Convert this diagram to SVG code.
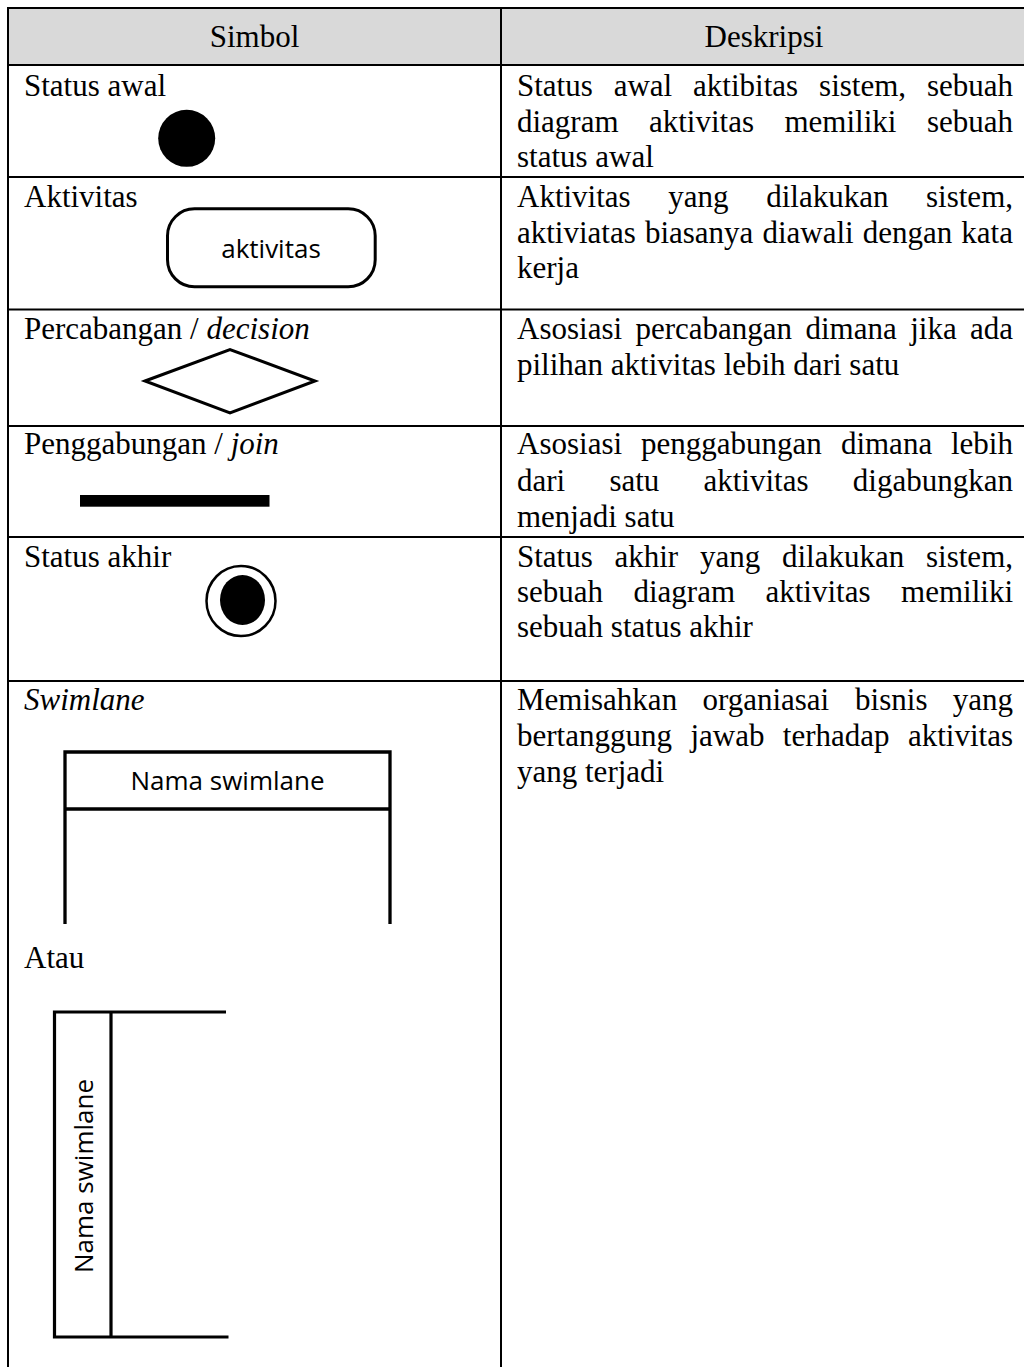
<svg xmlns="http://www.w3.org/2000/svg" width="1024" height="1367" viewBox="0 0 1024 1367">
<style>
text{font-family:"Liberation Serif","Times New Roman",serif;font-size:31px;fill:#000}
.it{font-style:italic}
.sans{font-family:"Open Sans","Noto Sans","Liberation Sans",sans-serif;font-size:26px}
.grid{stroke:#000;stroke-width:2;fill:none}
.sym{stroke:#000;stroke-width:3;fill:none}
.e{text-anchor:end}
.m{text-anchor:middle}
</style>
<rect x="0" y="0" width="1024" height="1367" fill="#fff"/>
<g id="table">
<rect x="8" y="8" width="1022" height="57" fill="#d9d9d9"/>
<path class="grid" d="M8,8 H1030 M8,65 H1030 M8,177 H1030 M8,309.5 H1030 M8,426 H1030 M8,537 H1030 M8,681 H1030 M8,7 V1367 M501,7 V1367"/>
</g>
<g id="header">
<text x="254.5" y="47" class="m">Simbol</text>
<text x="764" y="47" class="m">Deskripsi</text>
</g>
<g id="row-status-awal">
<text x="24" y="96">Status awal</text>
<circle cx="186.7" cy="138.3" r="28.5" fill="#000"/>
<text x="517" y="96">Status</text><text x="613.7" y="96">awal</text><text x="693.1" y="96">aktibitas</text><text x="819.1" y="96">sistem,</text><text x="1013" y="96" class="e">sebuah</text>
<text x="517" y="131.5">diagram</text><text x="649" y="131.5">aktivitas</text><text x="784.5" y="131.5">memiliki</text><text x="1013" y="131.5" class="e">sebuah</text>
<text x="517" y="167">status awal</text>
</g>
<g id="row-aktivitas">
<text x="24" y="207">Aktivitas</text>
<rect class="sym" x="167.5" y="208.8" width="207.7" height="78" rx="27"/>
<text x="271" y="258" class="sans m">aktivitas</text>
<text x="517" y="207">Aktivitas</text><text x="668.3" y="207">yang</text><text x="766.2" y="207">dilakukan</text><text x="1013" y="207" class="e">sistem,</text>
<text x="517" y="242.5">aktiviatas</text><text x="644.9" y="242.5">biasanya</text><text x="762.4" y="242.5">diawali</text><text x="862.8" y="242.5">dengan</text><text x="1013" y="242.5" class="e">kata</text>
<text x="517" y="278">kerja</text>
</g>
<g id="row-decision">
<text x="24" y="339">Percabangan / <tspan class="it">decision</tspan></text>
<polygon class="sym" points="145,381 230,349.5 315,381 230,413"/>
<text x="517" y="339">Asosiasi</text><text x="635.5" y="339">percabangan</text><text x="805.5" y="339">dimana</text><text x="910.2" y="339">jika</text><text x="1013" y="339" class="e">ada</text>
<text x="517" y="374.5">pilihan aktivitas lebih dari satu</text>
</g>
<g id="row-join">
<text x="24" y="454">Penggabungan / <tspan class="it">join</tspan></text>
<rect x="80" y="495" width="189.5" height="11.7" fill="#000"/>
<text x="517" y="454">Asosiasi</text><text x="641.1" y="454">penggabungan</text><text x="840.9" y="454">dimana</text><text x="1013" y="454" class="e">lebih</text>
<text x="517" y="490.5">dari</text><text x="609.4" y="490.5">satu</text><text x="703.5" y="490.5">aktivitas</text><text x="1013" y="490.5" class="e">digabungkan</text>
<text x="517" y="526.5">menjadi satu</text>
</g>
<g id="row-status-akhir">
<text x="24" y="566.5">Status akhir</text>
<ellipse cx="241" cy="601" rx="34.5" ry="35" fill="none" stroke="#000" stroke-width="2.5"/>
<ellipse cx="242.5" cy="600" rx="22.5" ry="25" fill="#000"/>
<text x="517" y="566.5">Status</text><text x="614.5" y="566.5">akhir</text><text x="700" y="566.5">yang</text><text x="782" y="566.5">dilakukan</text><text x="1013" y="566.5" class="e">sistem,</text>
<text x="517" y="602">sebuah</text><text x="633.5" y="602">diagram</text><text x="765.5" y="602">aktivitas</text><text x="1013" y="602" class="e">memiliki</text>
<text x="517" y="637">sebuah status akhir</text>
</g>
<g id="row-swimlane">
<text x="24" y="710" class="it">Swimlane</text>
<g id="swimlane-horizontal">
<path d="M65,924 V752 H390 V924 M65,809 H390" fill="none" stroke="#000" stroke-width="3.3"/>
<text x="227.5" y="790" class="sans m">Nama swimlane</text>
</g>
<text x="24" y="968">Atau</text>
<g id="swimlane-vertical">
<path d="M226,1012 H54.5 V1337 H228.5 M111,1012 V1337" fill="none" stroke="#000" stroke-width="3.2"/>
<text transform="translate(93,1176) rotate(-90)" class="sans m">Nama swimlane</text>
</g>
<text x="517" y="710">Memisahkan</text><text x="702.4" y="710">organiasai</text><text x="855.1" y="710">bisnis</text><text x="1013" y="710" class="e">yang</text>
<text x="517" y="746">bertanggung</text><text x="690.4" y="746">jawab</text><text x="782.8" y="746">terhadap</text><text x="1013" y="746" class="e">aktivitas</text>
<text x="517" y="782">yang terjadi</text>
</g>
</svg>
